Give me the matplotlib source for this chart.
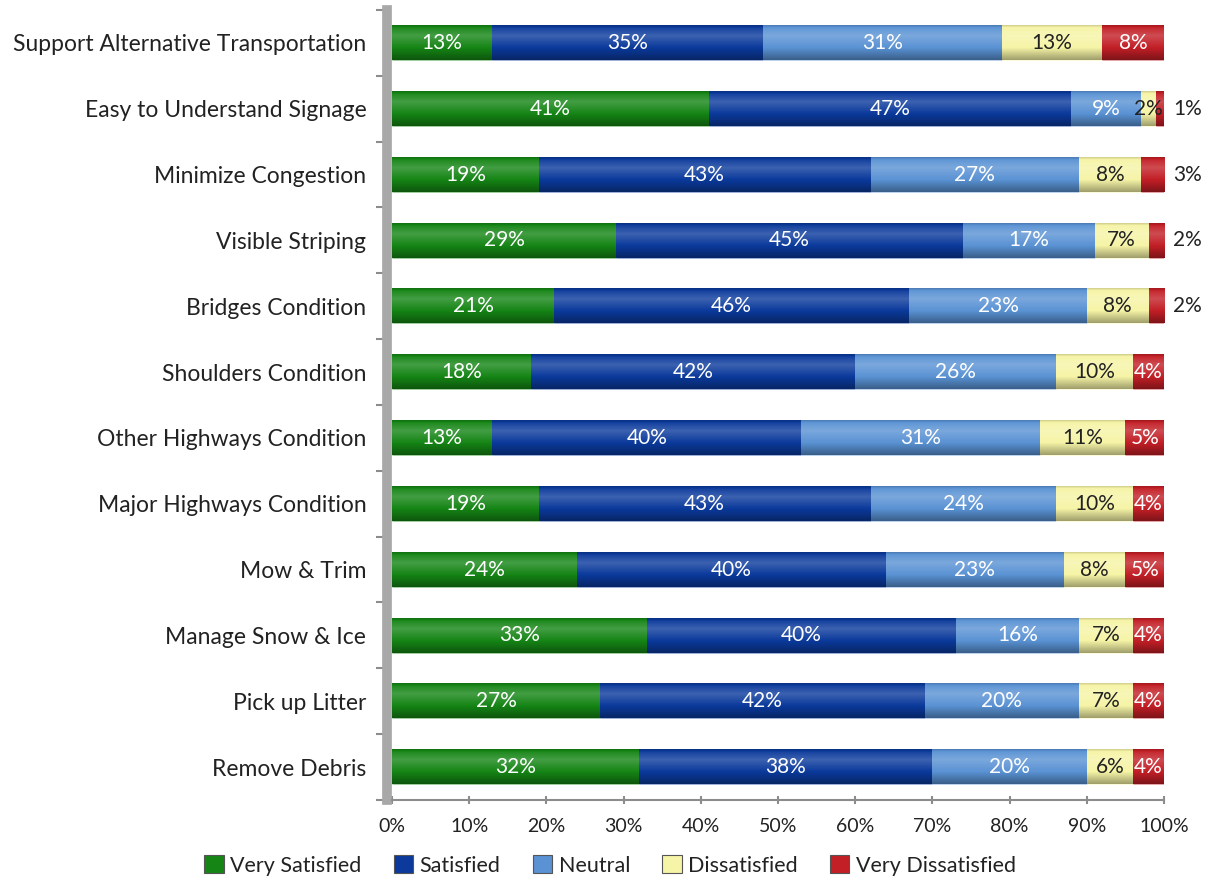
import numpy as np
import matplotlib.pyplot as plt
from matplotlib.colors import to_rgb
from matplotlib.patches import Patch

plt.rcParams['font.family'] = ['Lato', 'DejaVu Sans']

# listed top to bottom as in the chart
categories = [
    "Support Alternative Transportation",
    "Easy to Understand Signage",
    "Minimize Congestion",
    "Visible Striping",
    "Bridges Condition",
    "Shoulders Condition",
    "Other Highways Condition",
    "Major Highways Condition",
    "Mow & Trim",
    "Manage Snow & Ice",
    "Pick up Litter",
    "Remove Debris",
]
very_satisfied = [13, 41, 19, 29, 21, 18, 13, 19, 24, 33, 27, 32]
satisfied = [35, 47, 43, 45, 46, 42, 40, 43, 40, 40, 42, 38]
neutral = [31, 9, 27, 17, 23, 26, 31, 24, 23, 16, 20, 20]
dissatisfied = [13, 2, 8, 7, 8, 10, 11, 10, 8, 7, 7, 6]
very_dissatisfied = [8, 1, 3, 2, 2, 4, 5, 4, 5, 4, 4, 4]

series_names = ["Very Satisfied", "Satisfied", "Neutral", "Dissatisfied", "Very Dissatisfied"]
series = [very_satisfied, satisfied, neutral, dissatisfied, very_dissatisfied]
colors = ["#158515", "#0b3a9c", "#5a92d4", "#f6f4a6", "#c21f26"]
text_colors = ["white", "white", "white", "#222222", "white"]


def shade(color, t):
    """cylinder-like shading: highlight near top, darker toward the bottom"""
    c = np.array(to_rgb(color))
    light = np.interp(t, [0, 0.08, 0.3, 0.65, 1.0], [-0.15, 0.05, 0.2, 0.0, -0.35])
    out = np.empty((len(t), 3))
    for i, l in enumerate(light):
        out[i] = c + (1 - c) * l if l > 0 else c * (1 + l)
    return np.clip(out, 0, 1)


fig = plt.figure(figsize=(12.13, 8.8), dpi=100)
ax = fig.add_axes([392 / 1213, 80 / 880, 772 / 1213, 790 / 880])

n = len(categories)
ypos = np.arange(n)[::-1]
bar_h = 0.52
t = np.linspace(0, 1, 60)

left = np.zeros(n)
for name, vals, col, tc in zip(series_names, series, colors, text_colors):
    vals = np.array(vals, dtype=float)
    bars = ax.barh(ypos, vals, left=left, height=bar_h, color=col, label=name,
                   edgecolor=(1, 1, 1, 0.25), linewidth=0.6)
    grad = shade(col, t)[:, None, :]
    for b in bars:
        x0, y0 = b.get_x(), b.get_y()
        ax.imshow(grad, extent=(x0, x0 + b.get_width(), y0, y0 + b.get_height()),
                  aspect='auto', origin='upper', zorder=2, interpolation='bilinear')
    for y, l, v in zip(ypos, left, vals):
        if name == "Very Dissatisfied" and v <= 3:
            ax.text(103, y, f"{int(v)}%", ha='center', va='center', fontsize=15,
                    color='#222222', clip_on=False)
        else:
            ax.text(l + v / 2, y, f"{int(v)}%", ha='center', va='center', fontsize=15,
                    color=tc, zorder=3)
    left += vals

ax.set_xlim(0, 100)
ax.set_ylim(-0.5, n - 0.5)
ax.set_xticks(np.arange(0, 101, 10))
ax.set_xticklabels([f"{v}%" for v in range(0, 101, 10)])
ax.set_yticks(np.arange(-0.5, n, 1))
ax.set_yticklabels([])
ax.set_yticks(ypos, minor=True)
ax.set_yticklabels(categories, minor=True)
ax.tick_params(axis='y', which='minor', length=0, pad=15, labelsize=16.5, labelcolor='#222222')
ax.tick_params(axis='y', which='major', length=8, color='#8c8c8c', width=1.5)
ax.tick_params(axis='x', length=6, direction='inout', color='#8c8c8c', width=1.5, pad=10,
               labelsize=14, labelcolor='#222222')

for s in ['top', 'right']:
    ax.spines[s].set_visible(False)
ax.spines['bottom'].set_color('#8c8c8c')
ax.spines['bottom'].set_linewidth(1.5)
ax.spines['left'].set_color('#a8a8a8')
ax.spines['left'].set_linewidth(7)
ax.spines['left'].set_position(('outward', 3.5))

handles = [Patch(facecolor=c, edgecolor='#555555', linewidth=0.8) for c in colors]
fig.legend(handles, series_names, loc='lower center', bbox_to_anchor=(0.503, -0.017),
           ncol=5, frameon=False, fontsize=15.5, handlelength=0.9, handleheight=0.9,
           handletextpad=0.3, columnspacing=1.5, labelcolor='#222222')

fig.savefig("out.png", dpi=100)
